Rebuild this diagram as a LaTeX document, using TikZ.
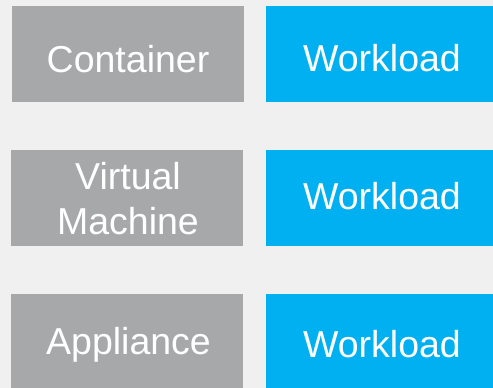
\documentclass[tikz,border=0pt]{standalone}
\usepackage{fontspec}
\setmainfont{Liberation Sans}
\definecolor{bg}{HTML}{F0F0F0}
\definecolor{boxgray}{HTML}{A7A8AA}
\definecolor{boxblue}{HTML}{00B0F0}
\begin{document}
\begin{tikzpicture}[x=1pt,y=-1pt,
  graybox/.style={fill=boxgray,draw=none,inner sep=0pt,minimum width=232pt,minimum height=96pt,anchor=north west},
  bluebox/.style={fill=boxblue,draw=none,inner sep=0pt,minimum width=232pt,minimum height=96pt,anchor=north west},
  lbl/.style={text=white,inner sep=0pt,anchor=base,font=\fontsize{37.5}{44.7}\selectfont,align=center}]
\fill[bg] (0,0) rectangle (493,388);
\useasboundingbox (0,0) rectangle (493,388);
\clip (0,0) rectangle (493,388);
\node[graybox] (g1) at (12,6) {};
\node[bluebox] (b1) at (266,6) {};
\node[graybox] (g2) at (11,150) {};
\node[bluebox] (b2) at (266,150) {};
\node[graybox] (g3) at (11,294) {};
\node[bluebox] (b3) at (266,294) {};
\node[lbl] (t1) at (128,72) {Container};
\node[lbl] (w1) at (382,71) {Workload};
\node[lbl] (t2a) at (128,189.3) {Virtual};
\node[lbl] (t2b) at (128,234) {Machine};
\node[lbl] (w2) at (382,209) {Workload};
\node[lbl] (t3) at (128.5,354.3) {Appliance};
\node[lbl] (w3) at (382,357.3) {Workload};
\end{tikzpicture}
\end{document}
